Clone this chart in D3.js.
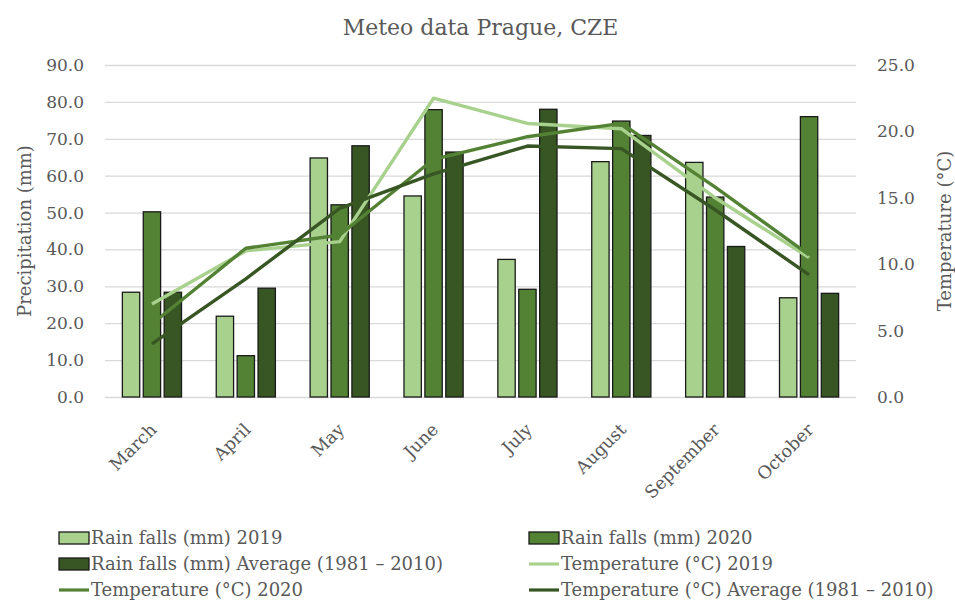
<!DOCTYPE html>
<html>
  <head>
    <meta charset="utf-8">
    <title>Meteo data Prague, CZE</title>
    <style>
      body { margin: 0; background: #fff; }
      text { font-family: "DejaVu Serif", "Liberation Serif", serif; fill: #595959; }
    </style>
  </head>
  <body>
    <script src="https://cdn.jsdelivr.net/npm/d3@7"></script>
    <script>
      // data
      var months = ['March', 'April', 'May', 'June', 'July', 'August', 'September', 'October'];
      var rain2019 = [28.4, 21.9, 64.8, 54.5, 37.3, 63.8, 63.6, 26.9];
      var rain2020 = [50.2, 11.2, 52.1, 77.9, 29.2, 74.8, 54.2, 76.0];
      var rainAvg = [28.4, 29.5, 68.1, 66.4, 78.0, 70.9, 40.8, 28.1];
      var temp2019 = [7.0, 11.0, 11.7, 22.5, 20.6, 20.2, 15.0, 10.5];
      var temp2020 = [5.5, 11.2, 12.2, 17.9, 19.6, 20.6, 15.8, 10.7];
      var tempAvg = [4.0, 8.9, 14.2, 16.8, 18.9, 18.7, 14.1, 9.2];
      var rainTicks = [0, 10, 20, 30, 40, 50, 60, 70, 80, 90];
      var tempTicks = [0, 5, 10, 15, 20, 25];

      var width = 955,
        height = 600,
        plot = { left: 105, right: 856, top: 65, bottom: 397 };

      var colors = { light: '#a9d18e', mid: '#548235', dark: '#375623' };

      var barSeries = [
        { name: 'Rain falls (mm) 2019', values: rain2019, color: colors.light },
        { name: 'Rain falls (mm) 2020', values: rain2020, color: colors.mid },
        { name: 'Rain falls (mm) Average (1981 \u2013 2010)', values: rainAvg, color: colors.dark }
      ];
      var lineSeries = [
        { name: 'Temperature (\u00b0C) 2019', values: temp2019, color: colors.light },
        { name: 'Temperature (\u00b0C) 2020', values: temp2020, color: colors.mid },
        { name: 'Temperature (\u00b0C) Average (1981 \u2013 2010)', values: tempAvg, color: colors.dark }
      ];

      var svg = d3.select('body')
        .append('svg')
        .attr('width', width)
        .attr('height', height);

      var x0 = d3.scaleBand()
        .domain(months)
        .range([plot.left, plot.right])
        .paddingInner(0.37)
        .paddingOuter(0.185);

      var x1 = d3.scaleBand()
        .domain([0, 1, 2])
        .range([0, x0.bandwidth()])
        .paddingInner(0.17);

      var yRain = d3.scaleLinear().domain([0, 90]).range([plot.bottom, plot.top]);
      var yTemp = d3.scaleLinear().domain([0, 25]).range([plot.bottom, plot.top]);

      // gridlines + left axis
      var left = svg.append('g')
        .attr('transform', 'translate(' + plot.left + ',0)')
        .call(d3.axisLeft(yRain).tickValues(rainTicks).tickFormat(d3.format('.1f'))
          .tickSize(-(plot.right - plot.left)).tickPadding(21));
      left.select('.domain').remove();
      left.selectAll('.tick line').attr('stroke', '#d9d9d9').attr('stroke-width', 1.3);
      left.selectAll('.tick text').style('font-size', '17px').style('fill', '#595959');

      var right = svg.append('g')
        .attr('transform', 'translate(' + plot.right + ',0)')
        .call(d3.axisRight(yTemp).tickValues(tempTicks).tickFormat(d3.format('.1f'))
          .tickSize(0).tickPadding(21));
      right.select('.domain').remove();
      right.selectAll('.tick text').style('font-size', '17px').style('fill', '#595959');

      // x axis labels
      var bottom = svg.append('g')
        .attr('transform', 'translate(0,' + plot.bottom + ')')
        .call(d3.axisBottom(x0).tickSize(0).tickPadding(0));
      bottom.select('.domain').remove();
      bottom.selectAll('.tick text')
        .style('font-size', '17.5px')
        .style('fill', '#595959')
        .attr('text-anchor', 'end')
        .attr('transform', 'translate(-3,25) rotate(-45)');

      // bars
      barSeries.forEach(function(s, si) {
        svg.append('g').selectAll('rect')
          .data(s.values)
          .enter().append('rect')
          .attr('x', function(d, i) { return x0(months[i]) + x1(si); })
          .attr('y', function(d) { return yRain(d); })
          .attr('width', x1.bandwidth())
          .attr('height', function(d) { return yRain(0) - yRain(d); })
          .attr('fill', s.color)
          .attr('stroke', '#1a1a1a')
          .attr('stroke-width', 1.3);
      });

      // temperature lines
      var line = d3.line()
        .x(function(d, i) { return x0(months[i]) + x0.bandwidth() / 2; })
        .y(function(d) { return yTemp(d); });

      lineSeries.forEach(function(s) {
        svg.append('path')
          .datum(s.values)
          .attr('d', line)
          .attr('fill', 'none')
          .attr('stroke', s.color)
          .attr('stroke-width', 3.4)
          .attr('stroke-linejoin', 'round');
      });

      // title
      svg.append('text')
        .attr('x', (plot.left + plot.right) / 2)
        .attr('y', 35)
        .attr('text-anchor', 'middle')
        .style('font-size', '22px')
        .text('Meteo data Prague, CZE');

      // axis titles
      svg.append('text')
        .attr('transform', 'translate(31,' + (plot.top + plot.bottom) / 2 + ') rotate(-90)')
        .attr('text-anchor', 'middle')
        .style('font-size', '18px')
        .text('Precipitation (mm)');

      svg.append('text')
        .attr('transform', 'translate(951,' + (plot.top + plot.bottom) / 2 + ') rotate(-90)')
        .attr('text-anchor', 'middle')
        .style('font-size', '18px')
        .text('Temperature (\u00b0C)');

      // legend: two columns, three rows
      var legendItems = [
        { s: barSeries[0], type: 'bar' }, { s: barSeries[1], type: 'bar' },
        { s: barSeries[2], type: 'bar' }, { s: lineSeries[0], type: 'line' },
        { s: lineSeries[1], type: 'line' }, { s: lineSeries[2], type: 'line' }
      ];
      var colX = [59, 529], rowY = [538, 564, 590];

      var leg = svg.append('g').selectAll('g')
        .data(legendItems)
        .enter().append('g')
        .attr('transform', function(d, i) {
          return 'translate(' + colX[i % 2] + ',' + rowY[Math.floor(i / 2)] + ')';
        });

      leg.filter(function(d) { return d.type === 'bar'; })
        .append('rect')
        .attr('x', 0).attr('y', -6)
        .attr('width', 30).attr('height', 12)
        .attr('fill', function(d) { return d.s.color; })
        .attr('stroke', '#1a1a1a')
        .attr('stroke-width', 1.3);

      leg.filter(function(d) { return d.type === 'line'; })
        .append('line')
        .attr('x1', 0).attr('x2', 30)
        .attr('stroke', function(d) { return d.s.color; })
        .attr('stroke-width', 3.2);

      leg.append('text')
        .attr('x', 32)
        .attr('dy', '0.35em')
        .style('font-size', '18px')
        .text(function(d) { return d.s.name; });
    </script>
  </body>
</html>
